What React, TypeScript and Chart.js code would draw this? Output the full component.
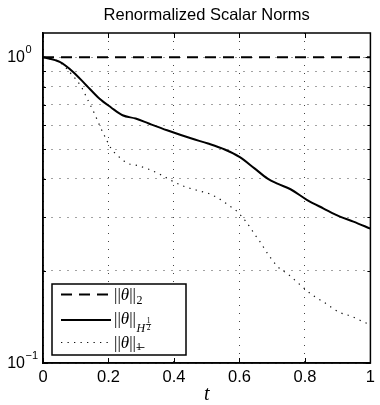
import React, { useEffect, useRef } from 'react';
import { Chart, registerables } from 'chart.js';

Chart.register(...registerables);

const TITLE = 'Renormalized Scalar Norms';
const X_LABEL = 't';
const X_TICKS = [0, 0.2, 0.4, 0.6, 0.8, 1];
const Y_GRID = [0.1, 0.2, 0.3, 0.4, 0.5, 0.6, 0.7, 0.8, 0.9, 1];
const Y_LABEL_VALUES = [1, 0.1];
const Y_LABEL_EXPONENTS = ['0', '\u22121'];

const T_L2 = [0, 1];
const V_L2 = [1, 1];

const T_H = [0, 0.051, 0.092, 0.132, 0.172, 0.208, 0.243, 0.283, 0.323, 0.379, 0.454, 0.504, 0.555, 0.6, 0.646, 0.686, 0.716, 0.756, 0.807, 0.857, 0.907, 0.948, 1.0];
const V_H = [1.0, 0.965, 0.895, 0.81, 0.733, 0.685, 0.646, 0.63, 0.607, 0.577, 0.542, 0.522, 0.499, 0.472, 0.433, 0.401, 0.386, 0.37, 0.341, 0.32, 0.301, 0.29, 0.275];

const T_D = [0, 0.051, 0.087, 0.117, 0.137, 0.157, 0.177, 0.192, 0.208, 0.227, 0.258, 0.283, 0.323, 0.363, 0.394, 0.434, 0.479, 0.51, 0.55, 0.57, 0.59, 0.62, 0.635, 0.647, 0.661, 0.686, 0.716, 0.751, 0.786, 0.822, 0.862, 0.902, 0.943, 0.988, 1.0];
const V_D = [1.0, 0.963, 0.88, 0.8, 0.724, 0.655, 0.585, 0.542, 0.503, 0.478, 0.45, 0.444, 0.43, 0.411, 0.394, 0.377, 0.365, 0.357, 0.338, 0.326, 0.315, 0.29, 0.275, 0.263, 0.251, 0.228, 0.207, 0.194, 0.18, 0.167, 0.157, 0.147, 0.142, 0.135, 0.134];

const toPoints = (ts: number[], vs: number[]) => ts.map((t, i) => ({ x: t, y: vs[i] }));

const SANS = 'Liberation Sans, Arial, sans-serif';
const SERIF = 'Liberation Serif, DejaVu Serif, serif';

type Seg = { text: string; font: string; dy?: number };

function drawSegs(ctx: CanvasRenderingContext2D, x: number, y: number, segs: Seg[]) {
  let cx = x;
  for (const s of segs) {
    ctx.font = s.font;
    ctx.fillText(s.text, cx, y + (s.dy || 0));
    cx += ctx.measureText(s.text).width;
  }
  return cx;
}

const decorPlugin = {
  id: 'decor',
  afterDraw(chart: any) {
    const { ctx, chartArea } = chart;
    const { left, right, top, bottom } = chartArea;
    const xs = chart.scales.x;
    const ys = chart.scales.y;
    ctx.save();

    // frame
    ctx.strokeStyle = '#000';
    ctx.lineWidth = 1.5;
    ctx.setLineDash([]);
    ctx.strokeRect(left, top, right - left, bottom - top);

    // inward ticks
    ctx.lineWidth = 1;
    ctx.beginPath();
    for (const v of X_TICKS) {
      const px = Math.round(xs.getPixelForValue(v)) + 0.5;
      ctx.moveTo(px, bottom); ctx.lineTo(px, bottom - 5);
      ctx.moveTo(px, top); ctx.lineTo(px, top + 5);
    }
    for (const v of Y_GRID) {
      const py = Math.round(ys.getPixelForValue(v)) + 0.5;
      const len = v === 1 || v === 0.1 ? 5 : 3;
      ctx.moveTo(left, py); ctx.lineTo(left + len, py);
      ctx.moveTo(right, py); ctx.lineTo(right - len, py);
    }
    ctx.stroke();

    // title
    ctx.fillStyle = '#000';
    ctx.textAlign = 'center';
    ctx.textBaseline = 'alphabetic';
    ctx.font = `16.5px ${SANS}`;
    ctx.fillText(TITLE, (left + right) / 2, 20);

    // x label
    ctx.font = `italic 20px ${SERIF}`;
    ctx.fillText(X_LABEL, (left + right) / 2, 400);

    // y labels
    Y_LABEL_VALUES.forEach((v, i) => {
      const py = ys.getPixelForValue(v);
      ctx.textAlign = 'right';
      ctx.font = `16px ${SANS}`;
      ctx.fillText('10', 25, py + 5);
      ctx.textAlign = 'left';
      ctx.font = `11px ${SANS}`;
      ctx.fillText(Y_LABEL_EXPONENTS[i], 25.5, py - 4);
    });

    // legend
    const bx = left + 9;
    const by = bottom - 79;
    const bw = 134;
    const bh = 71;
    ctx.fillStyle = '#fff';
    ctx.fillRect(bx, by, bw, bh);
    ctx.strokeStyle = '#000';
    ctx.lineWidth = 1.5;
    ctx.strokeRect(bx, by, bw, bh);

    const rows = [by + 10.5, by + 36, by + 58.5];
    const ds = chart.data.datasets;
    rows.forEach((ry, i) => {
      const d = ds[i];
      ctx.save();
      ctx.strokeStyle = d.borderColor;
      ctx.lineWidth = d.borderWidth;
      ctx.setLineDash(d.borderDash || []);
      ctx.beginPath();
      ctx.moveTo(bx + 9, ry);
      ctx.lineTo(bx + 59, ry);
      ctx.stroke();
      ctx.restore();
    });

    ctx.fillStyle = '#000';
    ctx.textAlign = 'left';
    ctx.textBaseline = 'alphabetic';
    const tx = bx + 62;
    const norm = (y: number) =>
      drawSegs(ctx, tx, y, [
        { text: '||', font: `17px ${SERIF}` },
        { text: '\u03b8', font: `italic 17px ${SERIF}` },
        { text: '||', font: `17px ${SERIF}` },
      ]);

    // row 1
    let ex = norm(rows[0] + 5);
    drawSegs(ctx, ex + 0.5, rows[0] + 9, [{ text: '2', font: `12px ${SERIF}` }]);

    // row 2
    ex = norm(rows[1] + 4);
    const hx = drawSegs(ctx, ex + 0.5, rows[1] + 12, [{ text: 'H', font: `italic 12px ${SERIF}` }]);
    ctx.font = `7.5px ${SERIF}`;
    ctx.textAlign = 'center';
    const fx = hx + 3.5;
    ctx.fillText('1', fx, rows[1] + 2.5);
    ctx.fillText('2', fx, rows[1] + 10);
    ctx.fillRect(fx - 2.5, rows[1] + 4, 5, 0.8);
    ctx.textAlign = 'left';

    // row 3
    ex = norm(rows[2] + 5);
    ctx.font = `10px ${SERIF}`;
    ctx.fillText('1', ex + 0.5, rows[2] + 7);
    ctx.fillRect(ex + 0.5, rows[2] + 4.5, 8, 0.8);

    ctx.restore();
  },
};

export default function App() {
  const ref = useRef<HTMLCanvasElement | null>(null);

  useEffect(() => {
    document.body.style.margin = '0';
    const canvas = ref.current;
    if (!canvas) return;
    const chart = new Chart(canvas, {
      type: 'line',
      data: {
        datasets: [
          {
            label: '||θ||₂',
            data: toPoints(T_L2, V_L2),
            borderColor: '#000',
            borderWidth: 2,
            borderDash: [11, 7],
            pointRadius: 0,
            fill: false,
          },
          {
            label: '||θ||_H½',
            data: toPoints(T_H, V_H),
            borderColor: '#000',
            borderWidth: 2,
            pointRadius: 0,
            cubicInterpolationMode: 'monotone',
            fill: false,
          },
          {
            label: '||θ||_1',
            data: toPoints(T_D, V_D),
            borderColor: '#111',
            borderWidth: 1.2,
            borderDash: [1.3, 5.2],
            pointRadius: 0,
            cubicInterpolationMode: 'monotone',
            fill: false,
          },
        ],
      },
      options: {
        responsive: false,
        animation: false,
        events: [],
        layout: { padding: { top: 33, right: 6, left: 0, bottom: 0 } },
        plugins: {
          legend: { display: false },
          title: { display: false },
          tooltip: { enabled: false },
        },
        scales: {
          x: {
            type: 'linear',
            min: 0,
            max: 1,
            afterBuildTicks: (s: any) => {
              s.ticks = X_TICKS.map((v) => ({ value: v }));
            },
            afterFit: (s: any) => {
              s.height = 42;
            },
            ticks: {
              callback: (v: any) => String(+Number(v).toFixed(1)),
              font: { family: SANS, size: 16.5 },
              color: '#000',
              padding: 5,
              maxRotation: 0,
              autoSkip: false,
            },
            grid: { color: '#444', lineWidth: 1, drawTicks: false },
            border: { display: true, color: '#000', width: 1.5, dash: [1, 7] },
          },
          y: {
            type: 'logarithmic',
            min: 0.1,
            max: 1.2,
            afterBuildTicks: (s: any) => {
              s.ticks = Y_GRID.map((v) => ({ value: v }));
            },
            afterFit: (s: any) => {
              s.width = 43;
            },
            ticks: { display: false },
            grid: { color: '#444', lineWidth: 1, drawTicks: false },
            border: { display: true, color: '#000', width: 1.5, dash: [1, 7] },
          },
        },
      },
      plugins: [decorPlugin],
    } as any);
    return () => chart.destroy();
  }, []);

  return <canvas ref={ref} width={380} height={405} style={{ display: 'block' }} />;
}
